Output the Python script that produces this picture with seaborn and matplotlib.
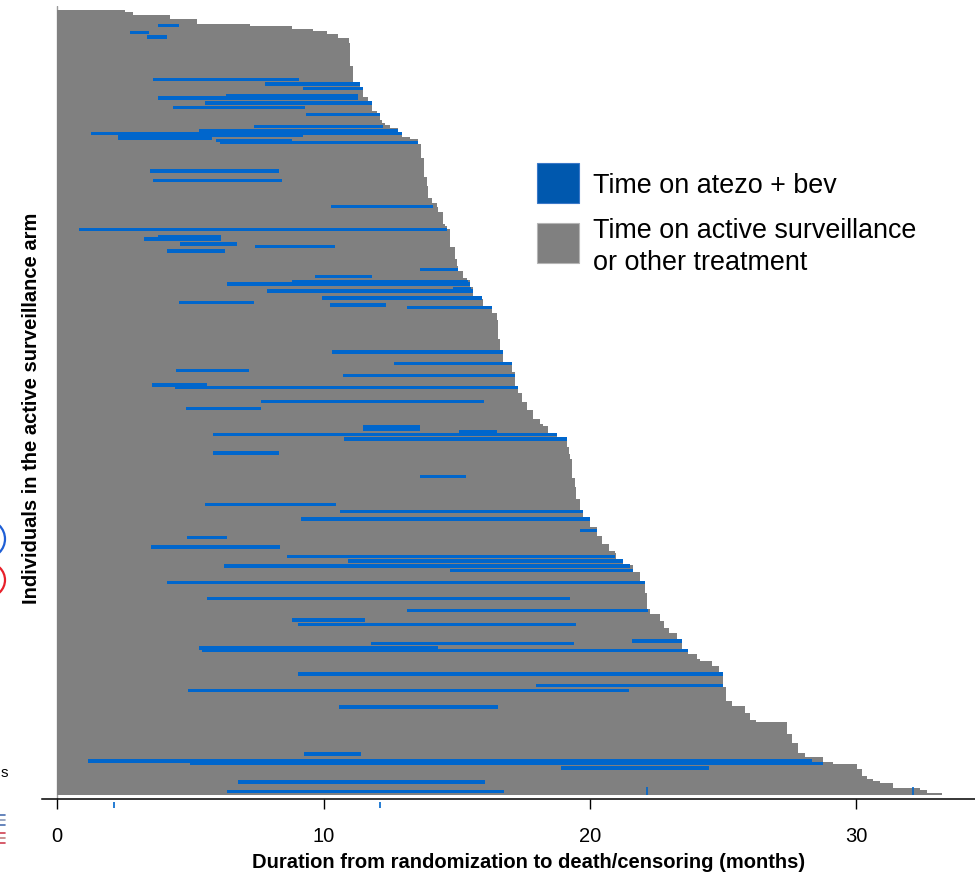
import numpy as np
import pandas as pd
import matplotlib
matplotlib.use("Agg")
import matplotlib.pyplot as plt
import matplotlib.transforms as mtransforms
from matplotlib.patches import Rectangle, Ellipse
from matplotlib.lines import Line2D
import seaborn as sns

# ---------------- data ----------------
# Duration (months) of each individual, run-length coded from top row to bottom row
dur_values = [2.55, 2.85, 4.24, 5.25, 7.24, 8.82, 9.61, 10.13, 10.54, 10.96,
              11.00, 11.11, 11.37, 11.48, 11.67, 11.82, 12.01, 12.12, 12.20, 12.31,
              12.50, 12.81, 12.95, 13.25, 13.55, 13.66, 13.78, 13.89, 13.92, 14.07,
              14.26, 14.30, 14.49, 14.56, 14.64, 14.75, 14.94, 15.01, 15.05, 15.24,
              15.39, 15.50, 15.61, 15.95, 15.99, 16.33, 16.52, 16.55, 16.63, 16.74,
              17.08, 17.19, 17.30, 17.45, 17.64, 17.87, 18.13, 18.24, 18.43, 18.77,
              19.14, 19.22, 19.26, 19.33, 19.44, 19.48, 19.63, 19.74, 20.01, 20.27,
              20.46, 20.72, 20.95, 20.98, 21.25, 21.62, 21.88, 22.07, 22.15, 22.26,
              22.64, 22.79, 22.97, 23.27, 23.46, 23.69, 24.03, 24.14, 24.59, 24.85,
              25.00, 25.11, 25.34, 25.83, 26.02, 26.24, 27.41, 27.59, 27.82, 28.08,
              28.76, 29.13, 30.03, 30.22, 30.41, 30.63, 30.90, 31.38, 32.40, 32.66,
              33.23]
dur_counts = [1, 1, 2, 2, 1, 1, 1, 1, 2, 2,
              10, 7, 2, 4, 2, 4, 1, 3, 1, 1,
              1, 2, 2, 1, 2, 6, 8, 4, 5, 2,
              2, 2, 5, 1, 1, 8, 5, 3, 2, 3,
              1, 3, 4, 1, 3, 3, 3, 8, 5, 5,
              4, 6, 3, 4, 3, 4, 2, 1, 3, 2,
              4, 3, 2, 8, 4, 5, 5, 3, 4, 4,
              3, 3, 1, 3, 2, 3, 4, 5, 7, 2,
              3, 3, 2, 3, 4, 2, 2, 1, 2, 3,
              6, 6, 2, 3, 3, 1, 5, 4, 4, 2,
              2, 1, 2, 3, 1, 1, 1, 2, 1, 1,
              1]

# Time on atezo + bev: row of the individual, start and end (months)
seg_row = [6, 9, 11, 29, 31, 33, 36, 37, 39, 41,
           44, 49, 51, 52, 53, 54, 55, 56, 68, 72,
           83, 93, 96, 97, 99, 100, 102, 110, 113, 115,
           116, 118, 119, 122, 124, 125, 126, 145, 150, 153,
           155, 159, 160, 166, 169, 177, 178, 179, 180, 182,
           188, 198, 210, 213, 216, 221, 224, 228, 232, 234,
           236, 238, 243, 250, 255, 259, 261, 268, 269, 271,
           272, 282, 287, 289, 296, 316, 319, 320, 322, 328,
           332]
seg_start = [3.79, 2.73, 3.37, 3.60, 7.80, 9.23, 6.34, 3.79, 5.55, 4.35,
             9.34, 7.39, 5.32, 1.27, 2.28, 2.28, 5.96, 6.11, 3.48, 3.60,
             10.28, 0.82, 3.79, 3.26, 4.61, 7.43, 4.12, 13.62, 9.68, 8.82,
             6.38, 14.86, 7.88, 9.94, 4.57, 10.24, 13.13, 10.32, 12.65, 4.46,
             10.73, 3.56, 4.42, 7.65, 4.83, 11.48, 11.48, 15.09, 5.85, 10.77,
             5.85, 13.62, 5.55, 10.62, 9.16, 19.63, 4.87, 3.52, 8.63, 10.92,
             6.26, 14.75, 4.12, 5.62, 13.13, 8.82, 9.04, 21.58, 11.79, 5.32,
             5.44, 9.04, 17.98, 4.91, 10.58, 9.27, 1.16, 4.99, 18.92, 6.79,
             6.38]
seg_end = [4.58, 3.45, 4.12, 9.08, 11.37, 11.48, 11.30, 11.30, 11.82, 9.30,
           12.12, 12.23, 12.81, 12.95, 9.23, 5.81, 8.82, 13.55, 8.33, 8.44,
           14.10, 14.64, 6.15, 6.15, 6.75, 10.43, 6.30, 15.05, 11.82, 15.43,
           15.50, 15.54, 15.61, 15.95, 7.39, 12.35, 16.33, 16.74, 17.08, 7.20,
           17.19, 5.62, 17.30, 16.03, 7.65, 13.62, 13.62, 16.52, 18.77, 19.14,
           8.33, 15.35, 10.47, 19.74, 20.01, 20.27, 6.38, 8.37, 20.95, 21.25,
           21.51, 21.62, 22.07, 19.26, 22.19, 11.56, 19.48, 23.46, 19.41, 14.30,
           23.69, 25.00, 25.00, 21.47, 16.55, 11.41, 28.34, 28.76, 24.48, 16.06,
           16.78]

x_ticks = [0, 10, 20, 30]
mark_months = [2.13, 12.12, 22.15, 32.14]
mark_below_axis = [True, True, False, False]
legend_labels = ["Time on atezo + bev",
                 "Time on active surveillance\nor other treatment"]
x_label = "Duration from randomization to death/censoring (months)"
y_label = "Individuals in the active surveillance arm"

# ---------------- style ----------------
GRAY = "#808080"
BLUE = "#0066CC"
BLUE_LEG = "#0058AE"

sns.set_theme(style="white")
plt.rcParams["font.family"] = ["Liberation Sans", "DejaVu Sans"]
plt.rcParams["text.color"] = "black"

W, H = 975, 876
fig = plt.figure(figsize=(W / 100, H / 100), dpi=100)
ax_l, ax_r, ax_t, ax_b = 42, 975, 6, 799
ax = fig.add_axes([ax_l / W, 1 - ax_b / H, (ax_r - ax_l) / W, (ax_b - ax_t) / H])

durations = np.repeat(dur_values, dur_counts)
n = len(durations)
df = pd.DataFrame({"patient": np.arange(n), "months": durations})

sns.barplot(data=df, x="months", y="patient", orient="h", native_scale=True,
            color=GRAY, saturation=1, width=1.0, errorbar=None,
            linewidth=0, ax=ax, zorder=2)
for p in ax.patches:
    p.set_antialiased(False)

seg = pd.DataFrame({"row": seg_row, "start": seg_start, "end": seg_end})
seg["end"] = np.minimum(seg["end"].to_numpy(), durations[seg["row"].to_numpy()])
ax.barh(seg["row"], seg["end"] - seg["start"], left=seg["start"], height=1.45,
        color=BLUE, linewidth=0, zorder=3)

ax.axvline(0, color="#9a9a9a", lw=1.0, zorder=1)

# small blue marks
trans = mtransforms.blended_transform_factory(ax.transData, ax.transAxes)
for m, below in zip(mark_months, mark_below_axis):
    if below:
        y0, y1 = (ax_b - 802) / (ax_b - ax_t), (ax_b - 808) / (ax_b - ax_t)
    else:
        y0, y1 = (ax_b - 795) / (ax_b - ax_t), (ax_b - 787) / (ax_b - ax_t)
    ax.plot([m, m], [y0, y1], transform=trans, color=BLUE, lw=1.2,
            clip_on=False, zorder=4, solid_capstyle="butt")

# axes limits
px_per_month = 26.63
x0_px = 57.2
ax.set_xlim((ax_l - x0_px) / px_per_month, (ax_r - x0_px) / px_per_month)
row_px = (795 - 10) / n
ax.set_ylim(n - 0.5 + (ax_b - 795) / row_px, -0.5 - (10 - ax_t) / row_px)

sns.despine(ax=ax, left=True, top=True, right=True)
ax.spines["bottom"].set_color("black")
ax.spines["bottom"].set_linewidth(1.1)
ax.set_xticks(x_ticks)
ax.set_xticklabels([str(t) for t in x_ticks])
ax.set_yticks([])
ax.tick_params(axis="x", bottom=True, length=7.5, width=1.0, color="black",
               direction="out", pad=13, labelsize=14.5, labelcolor="black")
ax.grid(False)

ax.set_xlabel(x_label, fontsize=14.5, fontweight="bold", color="black")
ax.xaxis.set_label_coords(0.521, (ax_b - 853) / (ax_b - ax_t))
ax.set_ylabel(y_label, fontsize=14.5, fontweight="bold", color="black")
ax.yaxis.set_label_coords((41 - ax_l) / (ax_r - ax_l), (ax_b - 408) / (ax_b - ax_t))

# legend (keys and labels placed in figure pixels)
def fx(px):
    return px / W

def fy(py):
    return 1 - py / H

key_colors = [BLUE_LEG, GRAY]
key_edges = ["#3a78c8", "#b5b5b5"]
key_tops = [163, 223]
for col, ec, top in zip(key_colors, key_edges, key_tops):
    fig.add_artist(Rectangle((fx(537), fy(top + 40)), fx(42), 40 / H,
                             transform=fig.transFigure, facecolor=col,
                             edgecolor=ec, linewidth=0.8))
label_lines = [legend_labels[0]] + legend_labels[1].split("\n")
label_baselines = [193, 238, 270]
for txt, base in zip(label_lines, label_baselines):
    fig.text(fx(593), fy(base), txt, fontsize=19.4, color="black",
             ha="left", va="baseline")

# cropped fragments of a neighbouring panel at the left edge
fig.add_artist(Ellipse((-14 / 100, (H - 539) / 100), 0.38, 0.38,
                       transform=fig.dpi_scale_trans, fill=False,
                       edgecolor="#1f5fd6", lw=1.6))
fig.add_artist(Ellipse((-12 / 100, (H - 580) / 100), 0.34, 0.34,
                       transform=fig.dpi_scale_trans, fill=False,
                       edgecolor="#e8202a", lw=1.6))
fig.text(fx(0.5), fy(773), "s", fontsize=11, va="center", ha="left")
for yy, cc in [(815, "#4a6fb0"), (820, "#8a9ab8"), (825, "#4a6fb0"),
               (833, "#d04050"), (838, "#c08080"), (843, "#d04050")]:
    fig.add_artist(Line2D([0, fx(5)], [fy(yy), fy(yy)],
                          transform=fig.transFigure, color=cc, lw=1.2))

fig.savefig("out.png", dpi=100)
